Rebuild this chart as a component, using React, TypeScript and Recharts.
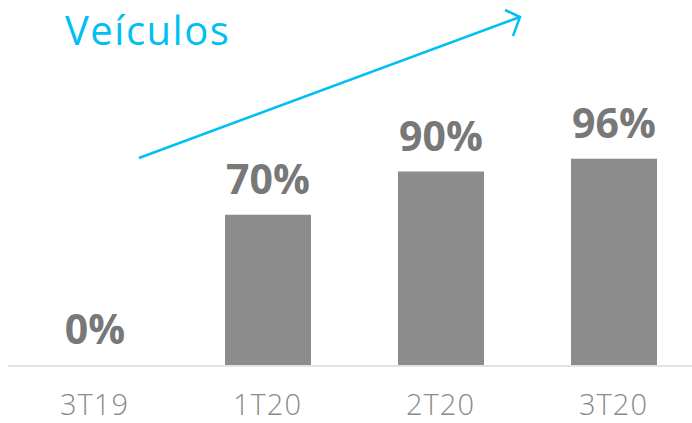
import { Bar, BarChart, Cell, LabelList, XAxis, YAxis } from 'recharts';

const categories = ['3T19', '1T20', '2T20', '3T20'];
const values = [0, 70, 90, 96];
const title = 'Veículos';

const CYAN = '#00c0f3';
const BAR = '#8c8c8c';
const FONT = '"Open Sans", "Noto Sans", sans-serif';

const data = categories.map((c, i) => ({ name: c, value: values[i] }));

export default function App() {
  return (
    <div
      style={{ position: 'absolute', left: 0, top: 0, width: 692, height: 423, overflow: 'hidden', fontFamily: FONT }}
    >
      <BarChart
        width={692}
        height={423}
        data={data}
        margin={{ top: 150, right: -8, bottom: 0, left: 8 }}
        barCategoryGap={0}
      >
        <XAxis
          dataKey="name"
          height={57}
          axisLine={{ stroke: '#e3e3e3', strokeWidth: 2 }}
          tickLine={false}
          tick={{ fill: '#8a8a8a', fontSize: 29, fontFamily: FONT, fontWeight: 300, letterSpacing: 1 }}
          tickMargin={22}
          interval={0}
        />
        <YAxis hide domain={[0, 100]} />
        <Bar dataKey="value" fill={BAR} barSize={86} minPointSize={1} isAnimationActive={false}>
          {data.map((d, i) => (
            <Cell key={i} fill={d.value === 0 ? 'transparent' : BAR} />
          ))}
          <LabelList
            dataKey="value"
            position="top"
            offset={21}
            formatter={(v: number) => `${v}%`}
            style={{ fill: '#787878', fontSize: 41, fontWeight: 700, fontFamily: FONT }}
          />
        </Bar>
      </BarChart>
      <svg
        width={692}
        height={423}
        style={{ position: 'absolute', left: 0, top: 0, pointerEvents: 'none' }}
      >
        <text x={65} y={45} fill={CYAN} fontSize={40} fontFamily={FONT} letterSpacing={1.5}>
          {title}
        </text>
        <line x1={139} y1={158} x2={520} y2={17} stroke={CYAN} strokeWidth={2.5} />
        <polyline points="505,10 520,17 513,36" fill="none" stroke={CYAN} strokeWidth={2.5} />
      </svg>
    </div>
  );
}
